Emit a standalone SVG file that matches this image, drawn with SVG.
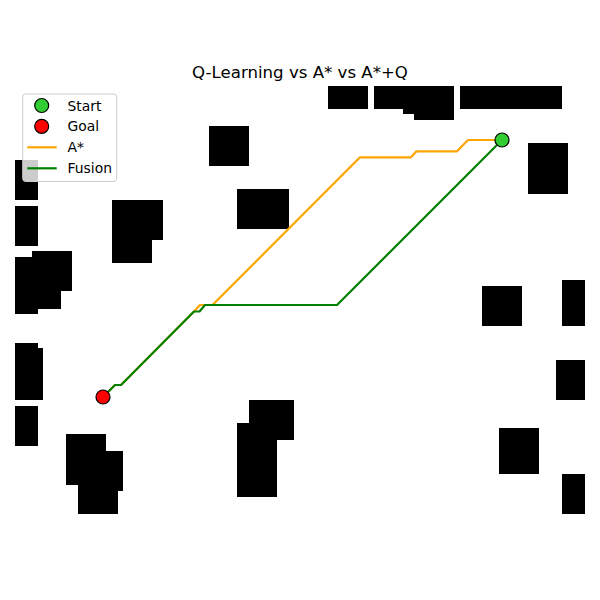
<svg xmlns="http://www.w3.org/2000/svg" width="600" height="600" viewBox="0 0 600 600">
<style>
.obs{fill:#000}
.astar{fill:none;stroke:#FFA500;stroke-width:2.2;stroke-linejoin:round;stroke-linecap:round}
.fusion{fill:none;stroke:#008000;stroke-width:2.2;stroke-linejoin:round;stroke-linecap:round}
.mk{stroke:#000;stroke-width:1.2}
.t{font-family:"DejaVu Sans",sans-serif;fill:#000}
</style>
<rect width="600" height="600" fill="#fff"/>
<text class="t" x="300" y="78.3" font-size="16.6" text-anchor="middle">Q-Learning vs A* vs A*+Q</text>
<g id="obstacles" class="obs">
<rect x="15" y="160" width="23" height="40"/>
<rect x="15" y="206" width="23" height="40"/>
<rect x="15" y="257" width="23" height="57"/>
<rect x="32" y="251" width="40" height="40"/>
<rect x="32" y="251" width="29" height="58"/>
<rect x="112" y="200" width="51" height="40"/>
<rect x="112" y="200" width="40" height="63"/>
<rect x="209" y="126" width="40" height="40"/>
<rect x="237" y="189" width="52" height="40"/>
<rect x="328" y="86" width="40" height="23"/>
<rect x="374" y="86" width="80" height="23"/>
<rect x="403" y="86" width="51" height="28"/>
<rect x="414" y="86" width="40" height="34"/>
<rect x="460" y="86" width="102" height="23"/>
<rect x="528" y="143" width="40" height="51"/>
<rect x="15" y="343" width="23" height="57"/>
<rect x="15" y="348" width="28" height="52"/>
<rect x="15" y="406" width="23" height="40"/>
<rect x="66" y="434" width="40" height="51"/>
<rect x="83" y="451" width="40" height="40"/>
<rect x="78" y="474" width="40" height="40"/>
<rect x="249" y="400" width="45" height="40"/>
<rect x="237" y="423" width="40" height="74"/>
<rect x="482" y="286" width="40" height="40"/>
<rect x="562" y="280" width="23" height="46"/>
<rect x="556" y="360" width="29" height="40"/>
<rect x="499" y="428" width="40" height="46"/>
<rect x="562" y="474" width="23" height="40"/>
</g>
<g id="connectors">
<polyline id="path-astar" class="astar" points="502,140 468,140 457,151.3 416.5,151.3 411,157.3 360,157.3 212.5,305 200,305 194,311.5 121,385 115,385 103,397"/>
<polyline id="path-fusion" class="fusion" points="502,140 337,305 205,305 199.5,311.5 194,311.5 121,385 115,385 103,397"/>
</g>
<g id="start"><circle class="mk" cx="502" cy="140" r="7" fill="#32CD32"/></g>
<g id="goal"><circle class="mk" cx="103" cy="397" r="7" fill="#FF0000"/></g>
<g id="legend">
<rect x="22.7" y="94" width="94" height="87.5" rx="3" fill="#fff" fill-opacity="0.8" stroke="#cccccc" stroke-width="1"/>
<circle class="mk" cx="41.7" cy="105.5" r="7" fill="#32CD32"/>
<text class="t" x="67.5" y="110.7" font-size="13.9">Start</text>
<circle class="mk" cx="41.7" cy="126.3" r="7" fill="#FF0000"/>
<text class="t" x="67.5" y="131" font-size="13.9">Goal</text>
<line x1="27.3" y1="147.3" x2="56.7" y2="147.3" stroke="#FFA500" stroke-width="2.2"/>
<text class="t" x="67.5" y="152" font-size="13.9">A*</text>
<line x1="27.3" y1="168.3" x2="56.7" y2="168.3" stroke="#008000" stroke-width="2.2"/>
<text class="t" x="67.5" y="173" font-size="13.9">Fusion</text>
</g>
</svg>
